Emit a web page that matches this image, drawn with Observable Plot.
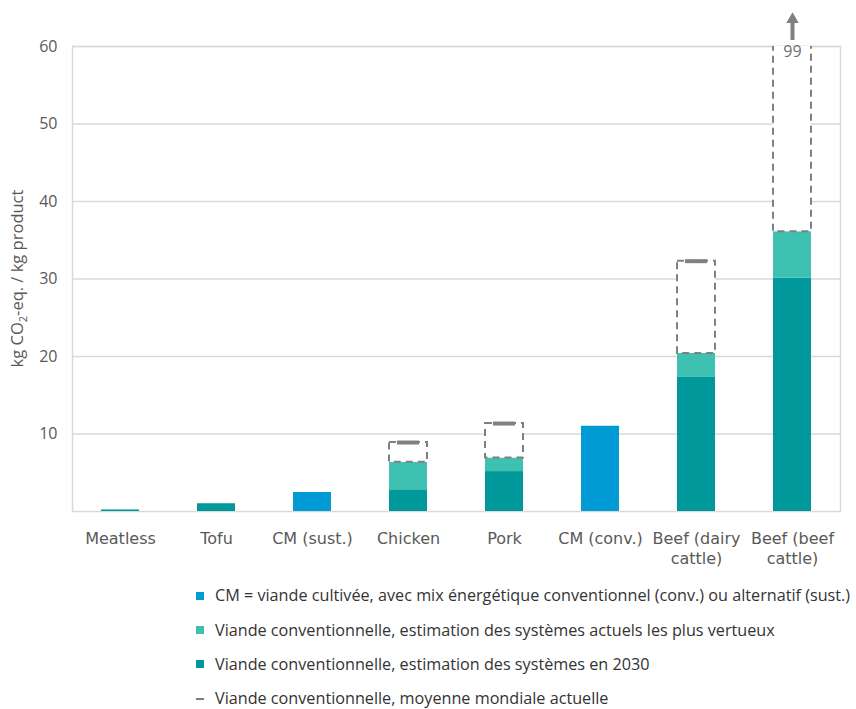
<!DOCTYPE html>
<html><head><meta charset="utf-8">
<script src="https://cdn.jsdelivr.net/npm/d3@7"></script>
<script src="https://cdn.jsdelivr.net/npm/@observablehq/plot@0.6"></script>
<style>
body{margin:0;background:#fff;}
#legend{margin-left:196px;margin-top:4px;font-family:"Open Sans",sans-serif;font-size:16.2px;color:#333;}
.row{height:34.2px;display:flex;align-items:center;white-space:nowrap;line-height:1.2;}
.sw{width:8px;height:8px;margin-right:11px;flex:none;}
.dash{width:8px;height:2px;margin-right:11px;flex:none;}
</style></head><body><div id="chart"></div><div id="legend"></div>
<script>
const categories = ["Meatless","Tofu","CM (sust.)","Chicken","Pork","CM (conv.)","Beef (dairy\ncattle)","Beef (beef\ncattle)"];
const cultured  = [null, null, 2.45, null, null, 11.0, null, null];
const conv2030  = [0.2, 1.0, null, 2.8, 5.15, null, 17.3, 30.1];
const convBest  = [null, null, null, 6.35, 6.9, null, 20.4, 36.1];
const worldMean = [null, null, null, 8.9, 11.35, null, 32.3, 99];
const yTicks = [10, 20, 30, 40, 50, 60];
const yMax = 60;
const legendLabels = [
  "CM = viande cultivée, avec mix énergétique conventionnel (conv.) ou alternatif (sust.)",
  "Viande conventionnelle, estimation des systèmes actuels les plus vertueux",
  "Viande conventionnelle, estimation des systèmes en 2030",
  "Viande conventionnelle, moyenne mondiale actuelle"
];
const colors = ["#009bd5", "#3ec1b0", "#00989a", "#808080"];

const rows = categories.map((c, i) => ({cat: c, cm: cultured[i], y2030: conv2030[i], best: convBest[i], mean: worldMean[i]}));
const cmRows = rows.filter(d => d.cm != null);
const r2030 = rows.filter(d => d.y2030 != null);
const rBest = rows.filter(d => d.best != null);
const rMean = rows.filter(d => d.mean != null);
const rMeanIn = rMean.filter(d => d.mean <= yMax);
const rMeanOut = rMean.filter(d => d.mean > yMax);

const inset = 29;
const plot = Plot.plot({
  width: 856, height: 575,
  marginLeft: 72, marginRight: 16, marginTop: 46, marginBottom: 64,
  x: {domain: categories, padding: 0, label: null},
  y: {domain: [0, yMax], label: null},
  style: {fontFamily: "Open Sans", background: "#fff"},
  marks: [
    Plot.ruleY(yTicks, {stroke: "#d9d9d9", strokeWidth: 1.5}),
    Plot.frame({stroke: "#d9d9d9", strokeWidth: 1.5}),
    Plot.barY(cmRows, {x: "cat", y1: 0, y2: "cm", fill: colors[0], insetLeft: inset, insetRight: inset}),
    Plot.barY(r2030, {x: "cat", y1: 0, y2: "y2030", fill: colors[2], insetLeft: inset, insetRight: inset}),
    Plot.barY(rBest, {x: "cat", y1: "y2030", y2: "best", fill: colors[1], insetLeft: inset, insetRight: inset}),
    Plot.barY(rMean, {x: "cat", y1: "best", y2: "mean", fill: "#fff", stroke: colors[3], strokeWidth: 2, strokeDasharray: "7,5", insetLeft: inset, insetRight: inset, clip: true}),
    Plot.tickY(rMeanIn, {x: "cat", y: "mean", stroke: colors[3], strokeWidth: 4, insetLeft: 37, insetRight: 37}),
    Plot.text(rMeanOut, {x: "cat", y: () => yMax, text: d => String(d.mean), dy: 5, fill: "#6f6f6f", fontSize: 16, fontFamily: "Open Sans"}),
    Plot.ruleX(rMeanOut, {x: "cat", y1: () => yMax, y2: () => yMax, insetTop: -24, insetBottom: 6, stroke: colors[3], strokeWidth: 4}),
    Plot.dot(rMeanOut, {x: "cat", y: () => yMax, symbol: "triangle", r: 4.6, fill: colors[3], stroke: "none", dy: -27}),
    Plot.axisY({ticks: yTicks, tickSize: 0, tickPadding: 15, fontSize: 16, fill: "#595959", label: null}),
    Plot.axisX({tickSize: 0, tickPadding: 18, fontSize: 16, fontFamily: "DejaVu Sans", fill: "#595959", lineHeight: 1.25, label: null})
  ]
});
document.getElementById("chart").appendChild(plot);

// y-axis title with subscript
const ys = plot.scale("y");
const yc = (ys.apply(ys.domain[0]) + ys.apply(ys.domain[1])) / 2;
const t = d3.select(plot).append("text")
  .attr("transform", `translate(23,${yc}) rotate(-90)`)
  .attr("text-anchor", "middle")
  .attr("fill", "#595959")
  .attr("font-family", "Open Sans")
  .attr("font-size", 16.5);
t.append("tspan").text("kg CO");
t.append("tspan").attr("font-size", 11).attr("dy", 4).text("2");
t.append("tspan").attr("dy", -4).text("-eq. / kg product");

// legend
const lg = d3.select("#legend");
legendLabels.forEach((lab, i) => {
  const r = lg.append("div").attr("class", "row");
  if (i < 3) r.append("div").attr("class", "sw").style("background", colors[i]);
  else r.append("div").attr("class", "dash").style("background", colors[3]);
  r.append("span").text(lab);
});
</script></body></html>
